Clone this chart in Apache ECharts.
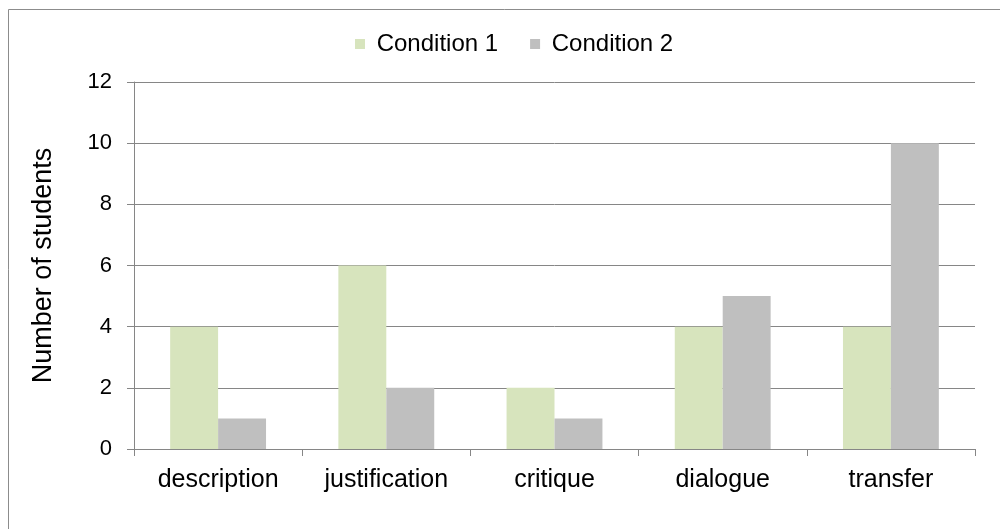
<!DOCTYPE html>
<html>
<head>
<meta charset="utf-8">
<script src="https://cdn.jsdelivr.net/npm/echarts@6/dist/echarts.min.js"></script>
<style>
html,body{margin:0;padding:0;background:#fff;}
#chart{width:1000px;height:529px;}
</style>
</head>
<body>
<div id="chart"></div>
<script>
const categories = ['description', 'justification', 'critique', 'dialogue', 'transfer'];
const condition1 = [4, 6, 2, 4, 4];
const condition2 = [1, 2, 1, 5, 10];
const seriesNames = ['Condition 1', 'Condition 2'];
const yAxisTitle = 'Number of students';

const FONT = '"Liberation Sans", Arial, sans-serif';
const chart = echarts.init(document.getElementById('chart'), null, {renderer: 'canvas'});
chart.setOption({
  animation: false,
  backgroundColor: '#ffffff',
  textStyle: {fontFamily: FONT},
  graphic: [{
    type: 'rect', silent: true, z: -10,
    shape: {x: 8.5, y: 9.5, width: 1000, height: 540},
    style: {fill: 'none', stroke: '#8c8c8c', lineWidth: 1}
  }],
  legend: {
    top: 27, left: 350,
    itemWidth: 10, itemHeight: 10, itemGap: 32,
    icon: 'rect',
    formatter: function (n) { return ' ' + n; },
    textStyle: {fontSize: 24, color: '#000', fontFamily: FONT},
    data: seriesNames
  },
  grid: {left: 134, right: 25, top: 82, bottom: 80, containLabel: false},
  xAxis: {
    type: 'category', data: categories,
    axisLine: {lineStyle: {color: '#868686', width: 1}},
    axisTick: {show: true, length: 7, alignWithLabel: false, lineStyle: {color: '#868686'}},
    axisLabel: {fontSize: 25, color: '#000', margin: 19, fontFamily: FONT},
    splitLine: {show: false}
  },
  yAxis: {
    type: 'value', min: 0, max: 12, interval: 2,
    name: yAxisTitle, nameLocation: 'middle', nameGap: 77, nameRotate: 90,
    nameTextStyle: {fontSize: 27, color: '#000', fontFamily: FONT},
    axisLine: {show: true, lineStyle: {color: '#868686', width: 1}},
    axisTick: {show: true, length: 7, lineStyle: {color: '#868686'}},
    axisLabel: {fontSize: 22, color: '#000', margin: 22, fontFamily: FONT},
    splitLine: {show: true, lineStyle: {color: '#868686', width: 1}}
  },
  series: [
    {name: seriesNames[0], type: 'bar', data: condition1, barGap: '0%', barCategoryGap: '43%',
     itemStyle: {color: '#D7E4BD'}},
    {name: seriesNames[1], type: 'bar', data: condition2, barGap: '0%', barCategoryGap: '43%',
     itemStyle: {color: '#BFBFBF'}}
  ]
});
</script>
</body>
</html>
